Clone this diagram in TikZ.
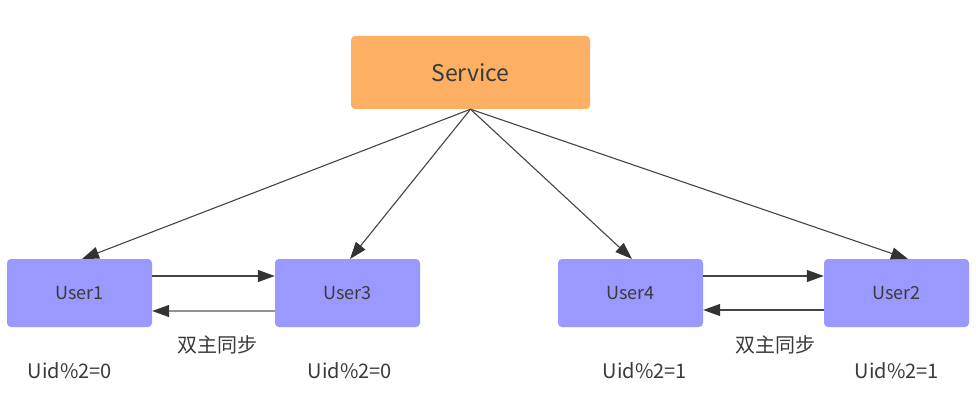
\documentclass[tikz,border=0pt]{standalone}
\usepackage{fontspec}
\setmainfont{Noto Sans CJK SC}
\usetikzlibrary{arrows.meta}
\definecolor{svc}{HTML}{FDB064}
\definecolor{usr}{HTML}{9999FF}
\definecolor{txt}{HTML}{3A3A3A}
\definecolor{ln}{HTML}{444444}
\definecolor{tip}{HTML}{333333}
\tikzset{
  svcbox/.style={fill=svc, rounded corners=4pt, minimum width=239pt, minimum height=73pt, inner sep=0pt, text=txt, font=\fontsize{23}{27}\selectfont},
  usrbox/.style={fill=usr, rounded corners=4pt, minimum width=145pt, minimum height=68pt, inner sep=0pt, text=txt, font=\fontsize{18}{22}\selectfont},
  lbl/.style={text=txt, font=\fontsize{20}{24}\selectfont, inner sep=0pt},
  conn/.style={draw=ln, line width=1.1pt, -{Triangle[length=17pt,width=12pt,color=tip,fill=tip]}}
}
\begin{document}
\begin{tikzpicture}[x=1pt,y=-1pt]
\useasboundingbox (0,0) rectangle (976,401);
\node[svcbox] (svc) at (470.5,72.5) {Service};
\node[usrbox] (u1) at (79.5,293) {User1};
\node[usrbox] (u3) at (347.5,293) {User3};
\node[usrbox] (u4) at (630.5,293) {User4};
\node[usrbox] (u2) at (896.5,293) {User2};
\coordinate (src) at (svc.south);
\coordinate (t1) at (82,259);
\coordinate (t3) at (350,259);
\coordinate (t4) at (632,259);
\coordinate (t2) at (908,259);
\draw[conn] (src) -- (t1);
\draw[conn] (src) -- (t3);
\draw[conn] (src) -- (t4);
\draw[conn] (src) -- (t2);
\draw[conn] (u1.east |- 0,276) -- (u3.west |- 0,276);
\draw[conn, draw=gray!85] (u3.west |- 0,311) -- (u1.east |- 0,311);
\draw[conn] (u4.east |- 0,276) -- (u2.west |- 0,276);
\draw[conn] (u2.west |- 0,310) -- (u4.east |- 0,310);
\node[lbl] (s1) at (217,345) {双主同步};
\node[lbl] (s2) at (775,345) {双主同步};
\node[lbl] (l1) at (70,371) {Uid\%2=0};
\node[lbl] (l3) at (350,371) {Uid\%2=0};
\node[lbl] (l4) at (645,371) {Uid\%2=1};
\node[lbl] (l2) at (897,371) {Uid\%2=1};
\end{tikzpicture}
\end{document}
